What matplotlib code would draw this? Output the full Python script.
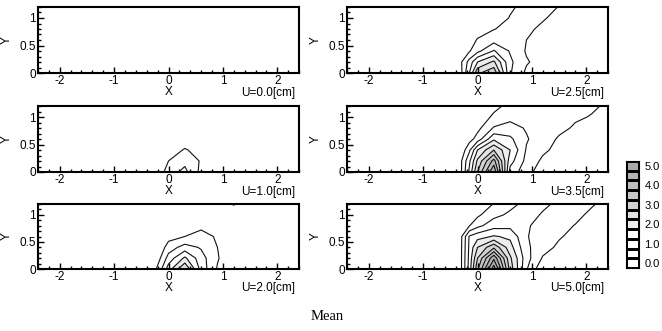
import numpy as np
import matplotlib
matplotlib.use("Agg")
import matplotlib.pyplot as plt
from matplotlib.colors import ListedColormap, BoundaryNorm
from matplotlib.ticker import MultipleLocator

plt.rcParams['font.family'] = ['Liberation Sans', 'DejaVu Sans']
plt.rcParams['font.size'] = 8.5
plt.rcParams['axes.unicode_minus'] = False

# ---- measuring grid [cm] ----
x_grid = [-2.4, -0.3, -0.15, 0.0, 0.3, 0.6, 0.9, 1.2, 1.5, 1.8, 2.1, 2.4]
y_grid = [0.0, 0.2, 0.4, 0.6, 0.8, 1.0, 1.2]

# ---- mean values (rows = y_grid, cols = x_grid) ----
mean_u10 = [
    [0, 0, 0.30, 0.75, 1.15, 0.35, 0, 0, 0, 0, 0, 0],
    [0, 0, 0.10, 0.50, 0.85, 0.45, 0.10, 0, 0, 0, 0, 0],
    [0, 0, 0, 0.20, 0.55, 0.30, 0, 0, 0, 0, 0, 0],
    [0, 0, 0, 0, 0.20, 0.10, 0, 0, 0, 0, 0, 0],
    [0, 0, 0, 0, 0, 0, 0, 0, 0, 0, 0, 0],
    [0, 0, 0, 0, 0, 0, 0, 0, 0, 0, 0, 0],
    [0, 0, 0, 0, 0, 0, 0, 0, 0, 0, 0, 0],
]
mean_u20 = [
    [0, 0.15, 0.85, 1.75, 3.00, 1.30, 0.45, 0.05, 0, 0, 0, 0],
    [0, 0.10, 0.50, 1.20, 2.10, 1.20, 0.55, 0.05, 0, 0, 0, 0],
    [0, 0, 0.20, 0.75, 1.20, 0.95, 0.50, 0.10, 0, 0, 0, 0],
    [0, 0, 0, 0.30, 0.50, 0.65, 0.45, 0.05, 0, 0, 0, 0],
    [0, 0, 0, 0.05, 0.30, 0.40, 0.30, 0.05, 0, 0, 0, 0],
    [0, 0, 0, 0, 0.10, 0.15, 0.15, 0.10, 0, 0, 0, 0],
    [0, 0, 0, 0, 0, 0.05, 0.10, 0.55, 0.10, 0, 0, 0],
]
mean_u25 = [
    [0, 0.40, 1.50, 2.90, 3.40, 1.05, 0.40, 0.30, 0.10, 0, 0, 0],
    [0, 0.45, 1.20, 2.00, 2.60, 1.10, 0.55, 0.30, 0.10, 0, 0, 0],
    [0, 0.25, 0.45, 0.85, 1.55, 0.95, 0.45, 0.35, 0.15, 0, 0, 0],
    [0, 0.05, 0.20, 0.55, 0.80, 0.75, 0.50, 0.35, 0.15, 0, 0, 0],
    [0, 0, 0.05, 0.20, 0.48, 0.65, 0.60, 0.40, 0.20, 0.05, 0, 0],
    [0, 0, 0, 0.10, 0.30, 0.52, 0.60, 0.55, 0.35, 0.10, 0, 0],
    [0, 0, 0, 0.05, 0.20, 0.45, 0.60, 0.60, 0.49, 0.20, 0.05, 0],
]
mean_u35 = [
    [0, 0.45, 1.60, 3.00, 5.00, 1.30, 0.70, 0.20, 0, 0, 0, 0],
    [0, 0.45, 1.40, 2.60, 4.20, 1.70, 0.85, 0.40, 0.10, 0, 0, 0],
    [0, 0.15, 0.90, 2.00, 3.00, 2.00, 0.95, 0.60, 0.35, 0.10, 0, 0],
    [0, 0.05, 0.30, 0.70, 1.90, 1.60, 1.05, 0.70, 0.45, 0.30, 0.10, 0],
    [0, 0, 0.10, 0.35, 1.05, 1.20, 0.95, 0.75, 0.60, 0.45, 0.20, 0.05],
    [0, 0, 0, 0.15, 0.60, 0.85, 0.80, 0.70, 0.62, 0.55, 0.48, 0.10],
    [0, 0, 0, 0.05, 0.35, 0.65, 0.70, 0.65, 0.60, 0.58, 0.55, 0.45],
]
mean_u50 = [
    [0, 0.45, 1.70, 3.40, 5.80, 2.80, 1.05, 0.10, 0, 0, 0, 0],
    [0, 0.45, 1.65, 3.00, 4.90, 2.60, 1.20, 0.45, 0.20, 0, 0, 0],
    [0, 0.44, 1.60, 2.50, 3.40, 2.20, 1.10, 0.70, 0.40, 0.10, 0, 0],
    [0, 0.42, 1.55, 1.80, 2.05, 1.90, 1.03, 0.80, 0.55, 0.35, 0.10, 0],
    [0, 0.20, 0.48, 0.85, 1.30, 1.35, 1.05, 0.85, 0.65, 0.48, 0.25, 0.05],
    [0, 0.05, 0.20, 0.40, 0.85, 1.10, 1.20, 0.95, 0.80, 0.62, 0.40, 0.15],
    [0, 0, 0.10, 0.20, 0.52, 0.85, 1.15, 1.10, 0.90, 0.75, 0.55, 0.35],
]

panel_labels = ["U=0.0[cm]", "U=2.5[cm]", "U=1.0[cm]", "U=3.5[cm]", "U=2.0[cm]", "U=5.0[cm]"]
panel_fields = [None, mean_u25, mean_u10, mean_u35, mean_u20, mean_u50]

# ---- contour levels / legend ----
legend_levels = [0.0, 0.5, 1.0, 1.5, 2.0, 2.5, 3.0, 3.5, 4.0, 4.5, 5.0]
legend_colors = ['white', 'white', 'white', 'white',
                 '#ededed', '#e2e2e2', '#d2d2d2', '#c8c8c8', '#bebebe', '#b4b4b4', '#a8a8a8']
line_levels = legend_levels[1:] + [5.5]
fill_levels = legend_levels[4:] + [99]
fill_colors = legend_colors[4:]

fig = plt.figure(figsize=(6.62, 3.31), dpi=100)

W, H = 662.0, 331.0
col_left = [38, 347]
ax_w = 261
row_span = [(7, 73), (106, 172), (204, 269)]

for i, (lab, field) in enumerate(zip(panel_labels, panel_fields)):
    r, c = divmod(i, 2)
    top, bot = row_span[r]
    ax = fig.add_axes([col_left[c] / W, 1 - bot / H, ax_w / W, (bot - top) / H])

    if field is not None:
        z = np.array(field)
        ax.contourf(x_grid, y_grid, z, levels=fill_levels, colors=fill_colors)
        ax.contour(x_grid, y_grid, z, levels=line_levels, colors='#111111', linewidths=0.8)

    ax.set_xlim(-2.4, 2.4)
    ax.set_ylim(0, 1.2)
    ax.xaxis.set_major_locator(MultipleLocator(1))
    ax.xaxis.set_minor_locator(MultipleLocator(0.2))
    ax.set_yticks([0, 0.5, 1])
    ax.set_yticklabels(['0', '0.5', '1'])
    ax.yaxis.set_minor_locator(MultipleLocator(0.1))
    ax.tick_params(which='both', direction='in', top=False, right=False, width=1)
    ax.tick_params(which='major', length=4, pad=1.5)
    ax.tick_params(which='minor', length=2)
    for sp in ax.spines.values():
        sp.set_linewidth(1.5)

    ax.set_xlabel('X', labelpad=-1)
    ax.set_ylabel('Y')
    ax.yaxis.set_label_coords(-0.095, 0.5)
    ax.text(0.985, -0.205, lab, transform=ax.transAxes, ha='right', va='top')

# ---- legend boxes ----
lax = fig.add_axes([626 / W, 1 - 268 / H, 13 / W, 107 / H])
edges = [v - 0.25 for v in legend_levels] + [legend_levels[-1] + 0.25]
lax.pcolormesh([0, 1], edges, np.array(legend_levels)[:, None],
               cmap=ListedColormap(legend_colors), norm=BoundaryNorm(edges, len(legend_levels)),
               edgecolors='k', linewidth=0.8)
lax.set_xlim(0, 1)
lax.set_ylim(edges[0], edges[-1])
lax.set_xticks([])
lax.yaxis.tick_right()
lax.set_yticks([0, 1, 2, 3, 4, 5])
lax.set_yticklabels(['0.0', '1.0', '2.0', '3.0', '4.0', '5.0'])
lax.tick_params(axis='y', length=0, pad=4, labelsize=8)
for sp in lax.spines.values():
    sp.set_linewidth(0.8)

fig.text(327 / W, 1 - 317 / H, 'Mean', ha='center', va='center',
         family=['Liberation Serif', 'DejaVu Serif'], fontsize=10.5)

fig.savefig('out.png', dpi=100)
